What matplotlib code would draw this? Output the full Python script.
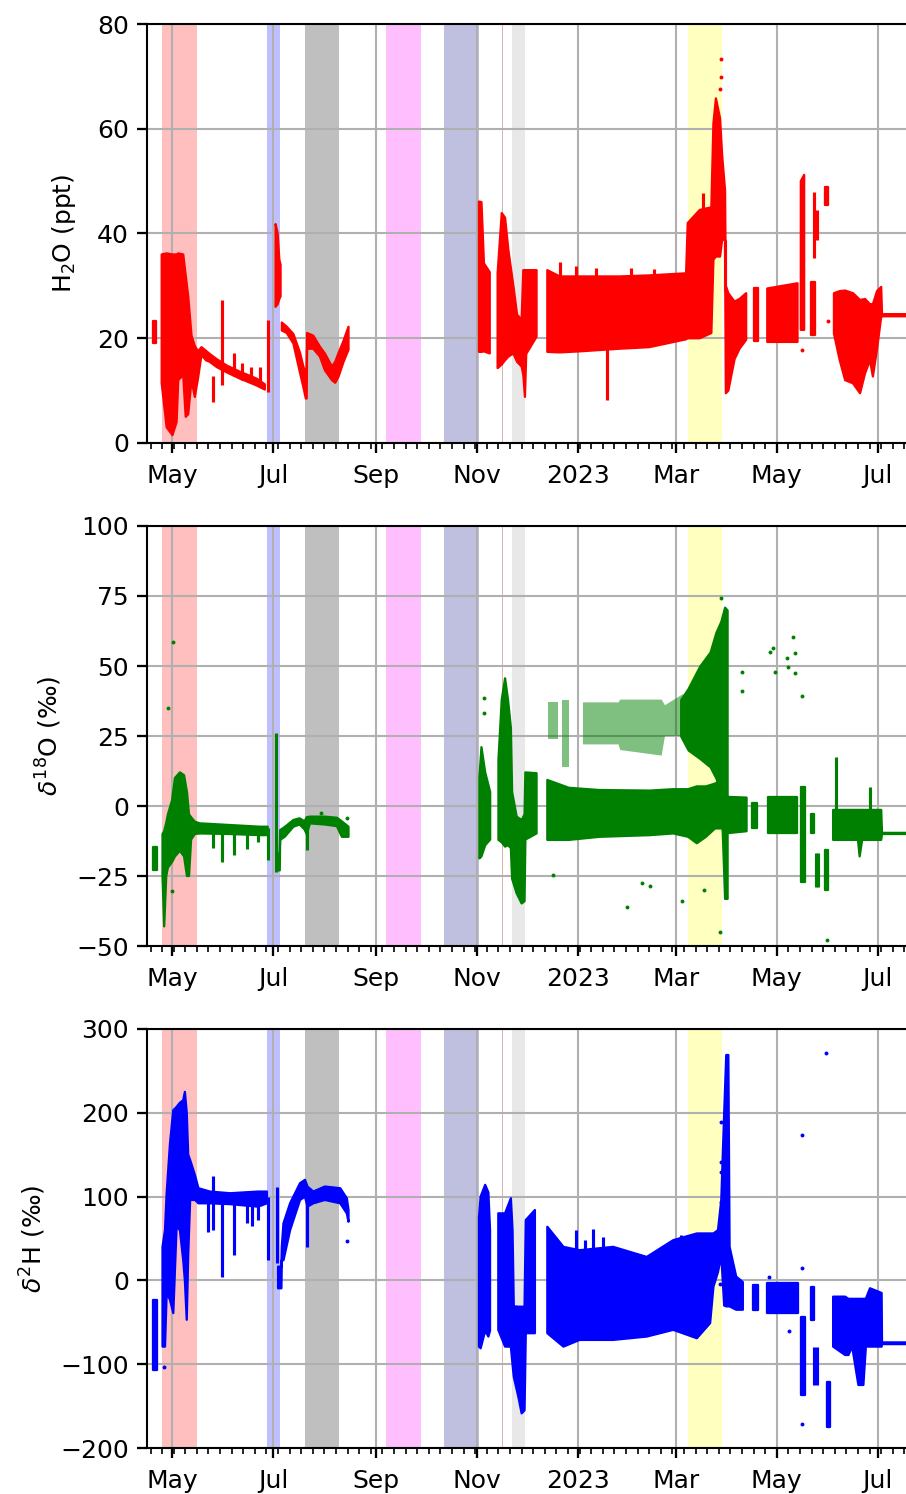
import numpy as np
import pandas as pd
import matplotlib
matplotlib.use("Agg")
import matplotlib.pyplot as plt
import matplotlib.dates as mdates
from matplotlib.ticker import FuncFormatter, MultipleLocator

N = np.nan

# ---------------- shaded periods ----------------
span_start = ['2022-04-25 04:00', '2022-06-27 07:00', '2022-07-20 03:00', '2022-09-07 03:00',
              '2022-10-12 05:00', '2022-11-16 08:00', '2022-11-22 10:00', '2023-03-08 10:00']
span_end = ['2022-05-15 22:00', '2022-07-05 00:00', '2022-08-09 20:00', '2022-09-28 03:00',
            '2022-11-02 03:00', '2022-11-16 20:00', '2022-11-30 01:00', '2023-03-28 22:00']
span_color = ['#ffbfbf', '#bfbfff', '#bfbfbf', '#ffbfff', '#bfbfdf', '#dcb4b4', '#e8e8e8', '#ffffbf']

# ---------------- H2O (ppt) ----------------
h2o_dates = ['2022-04-19 12:00', '2022-04-21 12:00', '2022-04-23',
             '2022-04-24 18:00', '2022-04-27 18:00', '2022-05-01 06:00', '2022-05-03 18:00',
             '2022-05-04 18:00', '2022-05-07 18:00', '2022-05-09 06:00', '2022-05-10 18:00',
             '2022-05-12 18:00', '2022-05-14 18:00', '2022-05-16 18:00', '2022-05-18 18:00',
             '2022-05-21 12:00', '2022-05-23 18:00', '2022-05-28', '2022-06-03', '2022-06-11',
             '2022-06-21', '2022-06-26', '2022-06-29',
             '2022-07-02 12:00', '2022-07-03 18:00', '2022-07-04 18:00', '2022-07-05 12:00',
             '2022-07-05 18:00',
             '2022-07-06 06:00', '2022-07-09 06:00', '2022-07-13 06:00', '2022-07-17 06:00',
             '2022-07-19 06:00', '2022-07-20 18:00', '2022-07-21 06:00', '2022-07-21 12:00',
             '2022-07-25 06:00', '2022-07-29 06:00', '2022-08-01 06:00', '2022-08-05 12:00',
             '2022-08-07 12:00', '2022-08-09 12:00', '2022-08-12 12:00', '2022-08-15 12:00',
             '2022-08-17',
             '2022-11-02 06:00', '2022-11-03 18:00', '2022-11-05 06:00', '2022-11-08 18:00',
             '2022-11-11',
             '2022-11-13 12:00', '2022-11-16', '2022-11-18', '2022-11-20', '2022-11-23',
             '2022-11-25 06:00', '2022-11-28', '2022-11-29', '2022-11-30', '2022-11-30 18:00',
             '2022-12-07', '2022-12-10',
             '2022-12-13 12:00', '2022-12-21', '2023-01-02', '2023-01-26', '2023-02-13',
             '2023-03-07 06:00', '2023-03-08 06:00', '2023-03-15 12:00', '2023-03-22 12:00',
             '2023-03-23 18:00', '2023-03-25 06:00', '2023-03-27 18:00', '2023-03-29',
             '2023-03-30 18:00', '2023-03-31 06:00', '2023-04-01 18:00', '2023-04-05 12:00',
             '2023-04-08 12:00', '2023-04-12 12:00', '2023-04-14',
             '2023-04-17 12:00', '2023-04-19 18:00', '2023-04-22',
             '2023-04-25 06:00', '2023-05-13 12:00', '2023-05-15',
             '2023-05-15 12:00', '2023-05-17 12:00', '2023-05-19',
             '2023-05-21 12:00', '2023-05-24', '2023-05-25',
             '2023-05-30 06:00', '2023-06-01', '2023-06-03',
             '2023-06-04 12:00', '2023-06-08', '2023-06-11 06:00', '2023-06-16',
             '2023-06-20 06:00', '2023-06-23 06:00', '2023-06-26 06:00', '2023-06-28',
             '2023-06-30 12:00', '2023-07-03', '2023-07-03 12:00', '2023-07-20']
h2o_low = [19.0, 19.0, N,
           11.4, 3.0, 1.5, 4.0, 12.0, 13.0, 5.0, 5.5, 12.0, 8.8, 12.5, 16.8, 15.8, 15.5,
           14.5, 13.5, 12.3, 11.0, 10.2, N,
           26.0, 26.5, 27.5, 28.0, N,
           21.5, 21.0, 19.0, 13.4, 10.7, 8.5, 8.5, 18.0, 18.0, 16.5, 13.9, 12.0, 11.5,
           12.7, 15.5, 17.8, N,
           17.4, 17.4, 17.5, 17.1, N,
           14.3, 15.0, 15.8, 16.5, 17.1, 15.5, 14.6, 13.0, 8.8, 17.0, 20.3, N,
           17.4, 17.3, 17.5, 18.0, 18.3, 19.8, 20.0, 20.0, 21.0, 35.0, 35.6, 35.6, 38.8,
           38.8, 9.5, 10.0, 16.0, 18.0, 19.7, N,
           19.5, 19.5, N,
           19.3, 19.3, N,
           21.6, 21.6, N,
           20.6, 20.6, N,
           45.4, 45.4, N,
           20.9, 15.8, 12.0, 11.4, 9.5, 13.3, 15.8, 12.7, 18.0, 24.1, 24.2, 24.2]
h2o_high = [23.2, 23.2, N,
            36.0, 36.2, 36.0, 36.0, 36.2, 36.0, 32.0, 28.0, 20.5, 18.5, 17.5, 18.3, 17.6,
            17.0, 16.0, 14.8, 13.6, 12.3, 11.2, N,
            41.8, 40.0, 35.0, 34.0, N,
            23.0, 22.2, 20.8, 17.2, 14.6, 13.3, 12.0, 21.0, 20.5, 18.4, 17.1, 14.6, 15.5,
            17.2, 19.5, 22.2, N,
            46.1, 46.0, 34.3, 32.6, N,
            32.4, 43.9, 43.0, 36.8, 30.0, 24.5, 23.5, 33.0, 33.0, 33.0, 33.0, N,
            33.0, 31.8, 31.8, 31.8, 32.0, 32.4, 42.0, 44.5, 45.0, 61.0, 65.8, 62.0, 55.0,
            48.3, 30.0, 28.6, 27.0, 27.5, 28.6, N,
            29.5, 29.5, N,
            29.5, 30.5, N,
            50.0, 51.2, N,
            30.8, 30.8, N,
            48.9, 48.9, N,
            28.6, 29.0, 29.1, 28.6, 27.3, 27.5, 26.5, 26.5, 29.0, 29.8, 24.6, 24.6]
h2o_spike_dates = ['2022-05-25 21:00', '2022-05-31 10:00', '2022-06-07 16:00', '2022-06-12',
                   '2022-06-17 16:00', '2022-06-23', '2022-06-27 16:00', '2023-01-18 12:00',
                   '2023-03-17 10:00', '2023-03-31', '2023-05-23 12:00', '2023-05-25 12:00',
                   '2022-12-21', '2022-12-31', '2023-01-12', '2023-02-02', '2023-02-16']
h2o_spike_low = [7.9, 11.1, 12.7, 12.0, 11.4, 10.7, 9.8, 8.2, 40.0, 29.0, 35.3, 38.8,
                 25, 25, 25, 25, 25]
h2o_spike_high = [12.7, 27.3, 17.1, 15.2, 14.6, 14.6, 23.5, 18.0, 47.7, 38.8, 48.0, 44.5,
                  34.6, 33.8, 33.5, 33.4, 33.2]
h2o_dot_dates = ['2023-03-28 06:00', '2023-03-28 06:00', '2023-03-28', '2023-05-16 06:00',
                 '2023-06-01']
h2o_dot_vals = [73.4, 69.8, 67.5, 17.8, 23.2]

# ---------------- delta 18O (permil) ----------------
d18o_dates = ['2022-04-19 18:00', '2022-04-22', '2022-04-23 12:00',
              '2022-04-25 06:00', '2022-04-26 06:00', '2022-04-27 12:00', '2022-04-28 12:00',
              '2022-05-01', '2022-05-02 18:00', '2022-05-05 18:00', '2022-05-08 06:00',
              '2022-05-10', '2022-05-11 06:00', '2022-05-12 12:00', '2022-05-14 18:00',
              '2022-05-17 18:00', '2022-06-05', '2022-06-23', '2022-06-27 18:00', '2022-06-29',
              '2022-07-03 18:00', '2022-07-05', '2022-07-05 06:00', '2022-07-08',
              '2022-07-13 06:00', '2022-07-17', '2022-07-20', '2022-07-21 06:00',
              '2022-07-23 06:00', '2022-08-01 06:00', '2022-08-08 12:00', '2022-08-11 12:00',
              '2022-08-15 12:00', '2022-08-17',
              '2022-11-02 12:00', '2022-11-03 18:00', '2022-11-06', '2022-11-09', '2022-11-11',
              '2022-11-14', '2022-11-16', '2022-11-18', '2022-11-19 18:00', '2022-11-21 12:00',
              '2022-11-22 06:00', '2022-11-25', '2022-11-28', '2022-11-29 18:00',
              '2022-11-30 06:00', '2022-12-07', '2022-12-10',
              '2022-12-13 12:00', '2022-12-26 12:00', '2023-01-14', '2023-02-13 12:00',
              '2023-02-27 12:00', '2023-03-08 12:00', '2023-03-13 18:00', '2023-03-19 06:00',
              '2023-03-24 18:00', '2023-03-29', '2023-03-30 12:00', '2023-04-12 18:00',
              '2023-04-14',
              '2023-04-16', '2023-04-19', '2023-04-22',
              '2023-04-25 18:00', '2023-05-13', '2023-05-15',
              '2023-05-15 12:00', '2023-05-18', '2023-05-20',
              '2023-05-21 12:00', '2023-05-23 18:00', '2023-05-24',
              '2023-05-30 06:00', '2023-06-01', '2023-06-03',
              '2023-06-04', '2023-06-19', '2023-06-20', '2023-06-21 12:00', '2023-07-03',
              '2023-07-03 12:00', '2023-07-20']
d18o_low = [-22.9, -22.9, N,
            -25, -43, -25, -22, -20, -18, -16, -18, -25, -25, -12, -10, -9.8, -10, -10.4,
            -10.4, N,
            -23, -23, -12.1, -11, -7.4, -6.6, -8.4, -10, -6.2, -6.6, -7.2, -11, -11, N,
            -18.7, -18, -14, -12, N,
            -12.1, -13, -14.5, -14, -15, -26, -31.2, -34.8, -34, -12, -9.8, N,
            -12.1, -12.1, -11, -10.4, -9.8, -11, -13.3, -11, -8, -8, -9.8, -9, N,
            -8, -8, N,
            -9.8, -9.8, N,
            -27, -27, N,
            -9.8, -9.8, N,
            -30, -30, N,
            -12.1, -12.1, -18, -12.1, -12.1, -10, -10]
d18o_high = [-14.5, -14.5, N,
             -10, -9, -6, -3, 2, 10, 12, 11, 5, -3, -4, -5.6, -6.2, -6.8, -7.4, -7.4, N,
             -17, -17, -8.6, -7.5, -5, -4.4, -5.5, -4, -3.8, -3.8, -4.2, -5.5, -7.4, N,
             10, 21, 12, 5, N,
             16.4, 38, 45.6, 38, 28, 5, -3.8, -5, -3, 12, 11.7, N,
             9.3, 6.5, 5.7, 5.5, 6, 6, 7, 7, 8, 9.5, 3.3, 3, N,
             1, 1, N,
             3.3, 3.3, N,
             6.9, 6.9, N,
             -2.9, -2.9, N,
             -15.7, -15.7, N,
             -1.4, -1.4, -1.4, -1.4, -1.4, -9.6, -9.6]
# dense cloud around the March peak
d18o_peak_dates = ['2023-03-04', '2023-03-08 12:00', '2023-03-15 12:00', '2023-03-21 18:00',
                   '2023-03-25 06:00', '2023-03-28 06:00', '2023-03-30 12:00', '2023-04-01']
d18o_peak_low = [25, 20, 17, 14, 10, 5, -33, -33]
d18o_peak_high = [38, 42, 50, 55, 62, 66, 71, 70]
# sparse upper cloud (winter)
d18o_cloud_dates = ['2022-12-14', '2022-12-20', '2022-12-21', '2022-12-22 12:00',
                    '2022-12-26 12:00', '2022-12-28', '2023-01-04', '2023-01-25 12:00',
                    '2023-01-26 12:00', '2023-02-20 12:00', '2023-02-22 12:00', '2023-03-05 12:00']
d18o_cloud_low = [24, 24, N, 14, 14, N, 22, 22, 20, 18, 25, 25]
d18o_cloud_high = [37, 37, N, 38, 38, N, 37, 37, 38, 38, 36, 40]
d18o_spike_dates = ['2022-05-25 21:00', '2022-05-31 10:00', '2022-06-07 14:00', '2022-06-15 02:00',
                    '2022-06-22 02:00', '2022-06-27 16:00', '2022-07-02 16:00', '2022-07-21 16:00',
                    '2023-05-24 12:00', '2023-05-25 18:00', '2023-06-05 18:00', '2023-06-26 06:00']
d18o_spike_low = [-15.1, -19.9, -17.5, -15.5, -13, -19.3, -23.5, -15.7, -28.8, -28.8, -10, -5]
d18o_spike_high = [-7, -7, -7, -7.5, -7.5, -8, 26, -5, -16.9, -16.9, 17.6, 6.9]
d18o_dot_dates = ['2022-04-28 18:00', '2022-05-01 18:00', '2022-04-30 18:00', '2022-07-30',
                  '2022-08-14 12:00', '2022-11-05 08:00', '2022-11-05 08:00', '2023-03-28 06:00',
                  '2023-03-28', '2023-04-26 22:00', '2023-04-28 22:00', '2023-04-29 22:00',
                  '2023-05-06 22:00', '2023-05-07 22:00', '2023-05-10 22:00', '2023-05-12',
                  '2023-05-12', '2023-05-16', '2023-05-31', '2023-01-30 12:00',
                  '2023-02-08 12:00', '2023-02-13 12:00', '2023-03-04 12:00', '2023-03-18',
                  '2022-12-17', '2023-04-09 18:00', '2023-04-09 18:00']
d18o_dot_vals = [34.9, 58.5, -30.2, -2.4, -4.4, 38.5, 33.3, 74.2, -45.1, 55.1, 56.3, 48,
                 52.7, 49.8, 60.5, 54.5, 47.4, 39.3, -47.9, -36, -27.4, -28.5, -33.8, -30,
                 -24.6, 48, 41]

# ---------------- delta 2H (permil) ----------------
d2h_dates = ['2022-04-19 18:00', '2022-04-22', '2022-04-23 12:00',
             '2022-04-25 06:00', '2022-04-26 18:00', '2022-04-27 18:00', '2022-04-29 18:00',
             '2022-05-01 18:00', '2022-05-03 18:00', '2022-05-05 18:00', '2022-05-07 18:00',
             '2022-05-08 18:00', '2022-05-09 21:00', '2022-05-10 18:00', '2022-05-11 22:00',
             '2022-05-14 22:00', '2022-05-16 22:00', '2022-05-23 22:00', '2022-06-05',
             '2022-06-21 22:00', '2022-06-27 06:00', '2022-06-29',
             '2022-07-04', '2022-07-06', '2022-07-06 06:00', '2022-07-07 06:00',
             '2022-07-11 06:00', '2022-07-17 06:00', '2022-07-20 06:00', '2022-07-21 18:00',
             '2022-07-25 06:00', '2022-08-01 06:00', '2022-08-10 12:00', '2022-08-14 12:00',
             '2022-08-15 12:00', '2022-08-17',
             '2022-11-02 06:00', '2022-11-03 06:00', '2022-11-06', '2022-11-07 22:00',
             '2022-11-08 22:00', '2022-11-11',
             '2022-11-13 22:00', '2022-11-18', '2022-11-21 12:00', '2022-11-22 12:00',
             '2022-11-23 06:00', '2022-11-26', '2022-11-28', '2022-11-29 18:00',
             '2022-11-30 12:00', '2022-12-06', '2022-12-10',
             '2022-12-13 12:00', '2022-12-23 06:00', '2023-01-02', '2023-01-22 06:00',
             '2023-02-11 12:00', '2023-02-27 12:00', '2023-03-13 18:00', '2023-03-21 18:00',
             '2023-03-23 18:00', '2023-03-26 12:00', '2023-03-28 12:00', '2023-03-30 06:00',
             '2023-03-31 12:00', '2023-04-01 18:00', '2023-04-02 12:00', '2023-04-06 12:00',
             '2023-04-10 12:00', '2023-04-14',
             '2023-04-16 18:00', '2023-04-19 18:00', '2023-04-22',
             '2023-04-25 06:00', '2023-05-13 12:00', '2023-05-15',
             '2023-05-15 12:00', '2023-05-18 06:00', '2023-05-20',
             '2023-05-21 12:00', '2023-05-23 18:00', '2023-05-25 18:00',
             '2023-05-31', '2023-06-02', '2023-06-03',
             '2023-06-04', '2023-06-11 06:00', '2023-06-13 06:00', '2023-06-15 12:00',
             '2023-06-19 06:00', '2023-06-22 06:00', '2023-06-23 18:00', '2023-06-26 06:00',
             '2023-07-03 06:00', '2023-07-03 12:00', '2023-07-20']
d2h_low = [-107, -107, N,
           -79, -79, -15, -23, -39, 64, 60, 24, 0, -47, 30, 96, 96, 92, 92, 91, 88, 92, N,
           -9.4, -9.4, 24.4, 24, 60, 96, 100, 88, 92, 96, 92, 80, 70, N,
           -79, -81, -60, -67, -60, N,
           -59, -79, -79, -100, -115, -138.7, -158.6, -155, -63, -63, N,
           -63, -79, -71, -71, -67, -59, -69, -51, -7.5, 10, 30, -30, -31, -31, -31, -35,
           -35, N,
           -35.3, -35.3, N,
           -39.2, -39.2, N,
           -136.8, -136.8, N,
           -47.2, -47.2, N,
           -174.6, -174.6, N,
           -79, -89, -89, -79, -124.8, -124.8, -79, -79, -79, -76, -76]
d2h_high = [-23.4, -23.4, N,
            40, 60, 104, 163, 203, 207, 212, 215, 225, 200, 150, 143.7, 125, 110, 106, 104,
            106, 106, N,
            16.4, 16.4, 40, 68, 92, 116, 120, 112, 106, 112, 110, 98, 84, N,
            75, 100, 114, 105, 60, N,
            80, 80, 98, 60, -31, -31.4, -31.4, -31.4, 72, 84, N,
            64, 40, 36, 40, 28, 48, 56, 56, 56, 60, 96, 200, 269, 269, 40, 4.5, -2, N,
            -5.5, -5.5, N,
            -3.5, -3.5, N,
            -43.3, -43.3, N,
            -7.5, -7.5, N,
            -121, -121, N,
            -19.4, -19.4, -22, -22, -22, -22, -22, -9.4, -15, -74, -74]
d2h_spike_dates = ['2022-05-22 22:00', '2022-05-25 22:00', '2022-05-31 10:00', '2022-06-07 14:00',
                   '2022-06-15 02:00', '2022-06-18 02:00', '2022-06-22 02:00', '2022-06-27 16:00',
                   '2022-07-03 06:00', '2022-07-21 16:00', '2023-05-23 12:00', '2023-05-25',
                   '2022-12-31', '2023-01-05', '2023-01-10', '2023-01-16', '2023-03-04']
d2h_spike_low = [58, 60, 4.4, 30, 68, 65, 72, 24.4, 20.4, 40, -124.8, -124.8,
                 0, 0, 0, 0, 0]
d2h_spike_high = [100, 124, 100, 100, 100, 100, 100, 100, 111.8, 112, -79, -79,
                  60, 48, 61, 52, 54]
d2h_dot_dates = ['2022-04-26', '2022-08-14 12:00', '2023-03-28 03:00', '2023-03-28 03:00',
                 '2023-03-28 03:00', '2023-03-28 03:00', '2023-03-28', '2023-04-26 12:00',
                 '2023-05-08 12:00', '2023-05-16 06:00', '2023-05-16 06:00', '2023-05-16 06:00',
                 '2023-05-30 18:00']
d2h_dot_vals = [-103.7, 47, 189.4, 141.7, 129.7, 94, -4.7, 4.5, -60.4, 173.5, 15.2, -171.8, 271]

# ---------------- axes settings ----------------
x_min, x_max = '2022-04-15 14:00', '2023-07-20'
ylabels = ['H$_2$O (ppt)', '$\\delta^{18}$O (\u2030)', '$\\delta^{2}$H (\u2030)']
ylims = [(0, 80), (-50, 100), (-200, 300)]
ysteps = [20, 25, 100]
label_pads = [9, 6, 6]

W, H, DPI = 906, 1494, 150
fig = plt.figure(figsize=(W / DPI, H / DPI), dpi=DPI)
left = 146.5 / W
width = 0.842
tops = [24, 526, 1029]
bots = [443, 946, 1448]
axes = [fig.add_axes([left, 1 - b / H, width, (b - t) / H]) for t, b in zip(tops, bots)]


def to_dt(v):
    if isinstance(v, str):
        return pd.to_datetime(v, format='ISO8601')
    return pd.to_datetime(list(v), format='ISO8601')


def fmt(x, pos):
    d = mdates.num2date(x)
    return str(d.year) if d.month == 1 else d.strftime('%b')


series = [
    ('red', h2o_dates, h2o_low, h2o_high, h2o_spike_dates, h2o_spike_low, h2o_spike_high,
     h2o_dot_dates, h2o_dot_vals),
    ('green', d18o_dates, d18o_low, d18o_high, d18o_spike_dates, d18o_spike_low,
     d18o_spike_high, d18o_dot_dates, d18o_dot_vals),
    ('blue', d2h_dates, d2h_low, d2h_high, d2h_spike_dates, d2h_spike_low, d2h_spike_high,
     d2h_dot_dates, d2h_dot_vals),
]

for i, ax in enumerate(axes):
    for s, e, c in zip(span_start, span_end, span_color):
        ax.axvspan(to_dt(s), to_dt(e), color=c, lw=0, zorder=1)
    col, bd, bl, bh, sd, sl, sh, dd, dv = series[i]
    ax.fill_between(to_dt(bd), np.array(bl, float), np.array(bh, float), facecolor=col,
                    edgecolor=col, lw=1.1, zorder=2)
    ax.vlines(to_dt(sd), sl, sh, color=col, lw=1.5, zorder=2)
    ax.scatter(to_dt(dd), dv, s=3.5, color=col, lw=0, zorder=2)
    if i == 1:
        ax.fill_between(to_dt(d18o_peak_dates), d18o_peak_low, d18o_peak_high,
                        facecolor=col, edgecolor=col, lw=1.1, zorder=2)
        ax.fill_between(to_dt(d18o_cloud_dates), np.array(d18o_cloud_low, float),
                        np.array(d18o_cloud_high, float), facecolor=col, edgecolor='none',
                        alpha=0.5, zorder=2)
    ax.set_xlim(to_dt(x_min), to_dt(x_max))
    ax.set_ylim(*ylims[i])
    ax.yaxis.set_major_locator(MultipleLocator(ysteps[i]))
    ax.xaxis.set_major_locator(mdates.MonthLocator(bymonth=[1, 3, 5, 7, 9, 11]))
    ax.xaxis.set_minor_locator(mdates.WeekdayLocator(byweekday=mdates.MO))
    ax.xaxis.set_major_formatter(FuncFormatter(fmt))
    ax.grid(True, which='major', color='#b0b0b0', lw=1.0)
    ax.tick_params(axis='both', which='major', labelsize=12, length=5, width=1.1)
    ax.tick_params(axis='x', which='major', pad=5)
    ax.tick_params(axis='x', which='minor', length=2.8, width=0.8)
    ax.set_ylabel(ylabels[i], fontsize=12, labelpad=label_pads[i])
    for sp in ax.spines.values():
        sp.set_linewidth(1.0)

fig.savefig('out.png', dpi=DPI)
